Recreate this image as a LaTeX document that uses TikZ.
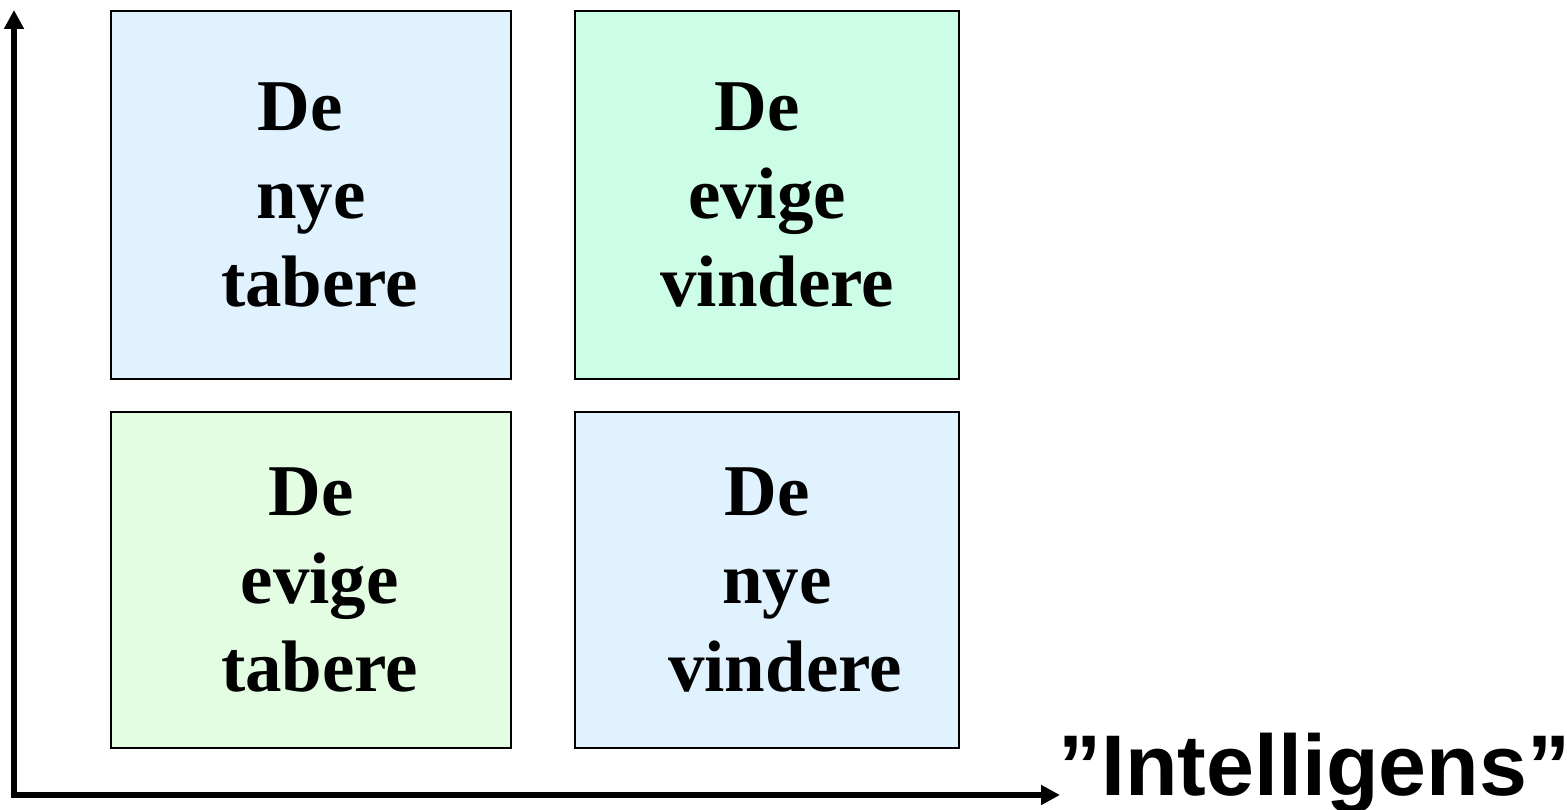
\documentclass[tikz,border=0pt]{standalone}
\usepackage{fontspec}
\setmainfont{Liberation Serif}
\newfontfamily\labelfont{Liberation Sans}
\usetikzlibrary{arrows.meta}

\definecolor{paleblue}{HTML}{E0F2FE}
\definecolor{mint}{HTML}{CCFDE6}
\definecolor{palegreen}{HTML}{E3FDE3}

% shift one centred line sideways by half of #1
\newcommand{\nudge}[2]{\hspace*{#1}#2}

\begin{document}
\begin{tikzpicture}[
    font=\fontsize{41.5}{50}\selectfont\bfseries,
    cell/.style={draw, line width=1.1pt, align=center, inner sep=0pt},
    axis/.style={line width=3.1pt, line join=miter,
      {Triangle[length=0.38cm, width=0.38cm]}-{Triangle[length=0.38cm, width=0.38cm]}}
  ]
    \useasboundingbox (0,0) rectangle (31.34,16.2);

    \coordinate (o) at (0.28,0.3);
    \coordinate (ytop) at (0.28,16.0);
    \coordinate (xend) at (21.2,0.3);

    \node [cell, fill=paleblue, minimum width=8cm, minimum height=7.36cm]
      (newlosers) at (6.22,12.3)
      {\nudge{-12.5pt}{De}\\nye\\\nudge{10pt}{tabere}};

    \node [cell, fill=mint, minimum width=7.68cm, minimum height=7.36cm]
      (eternalwinners) at (15.34,12.3)
      {\nudge{-11.5pt}{De}\\evige\\\nudge{11.5pt}{vindere}};

    \node [cell, fill=palegreen, minimum width=8cm, minimum height=6.72cm]
      (eternallosers) at (6.22,4.6)
      {De\\\nudge{10pt}{evige}\\\nudge{10pt}{tabere}};

    \node [cell, fill=paleblue, minimum width=7.68cm, minimum height=6.72cm]
      (newwinners) at (15.34,4.6)
      {De\\\nudge{11.5pt}{nye}\\\nudge{20.5pt}{vindere}};

    \draw [axis] (ytop) -- (o) -- (xend);

    \node [anchor=base west, inner sep=0pt, font=\labelfont\fontsize{49}{58}\selectfont\bfseries]
      (xlabel) at (21.16,0.28) {”Intelligens”};

  \end{tikzpicture}
\end{document}
